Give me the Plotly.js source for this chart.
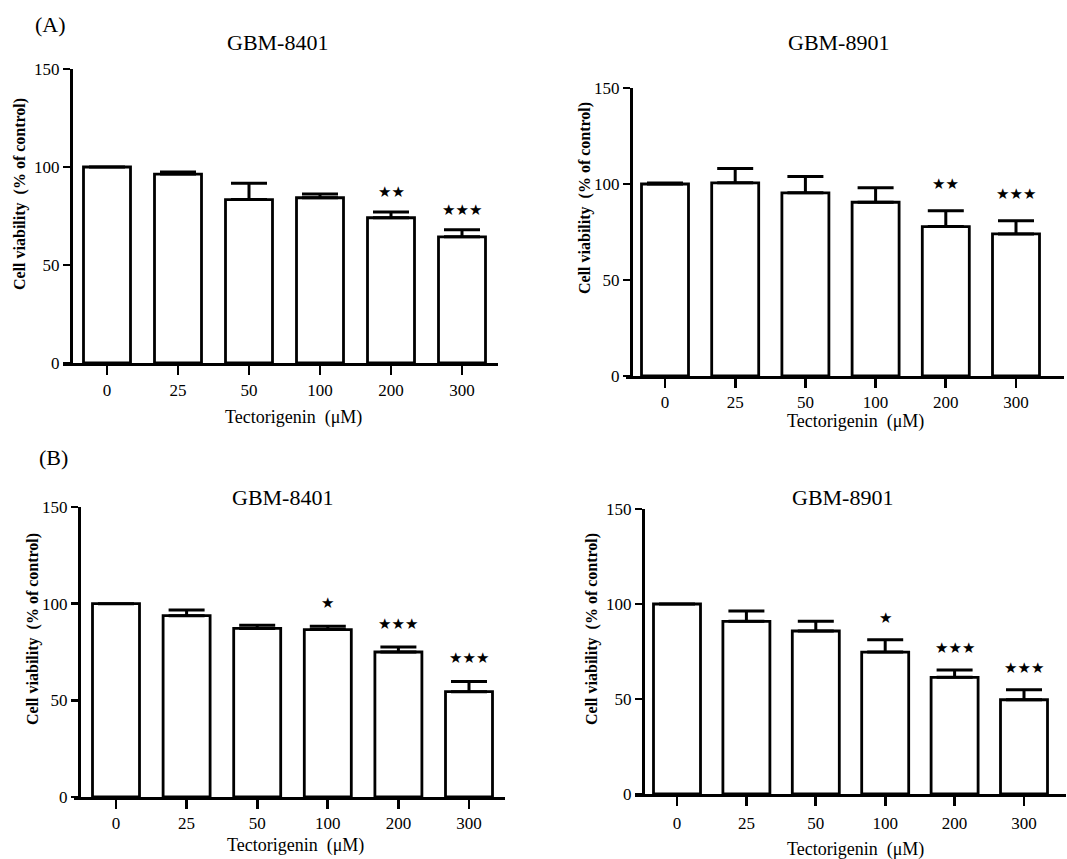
<!DOCTYPE html>
<html>
<head>
<meta charset="utf-8">
<script src="https://cdn.plot.ly/plotly-3.0.1.min.js"></script>
<style>html,body{margin:0;padding:0;background:#fff;}#chart{width:1067px;height:859px;}</style>
</head>
<body>
<div id="chart"></div>
<script>
// ---- data ----
const doses = ['0', '25', '50', '100', '200', '300'];

const a8401Values = [100, 96.4, 83.4, 84.3, 74.1, 64.4];
const a8401Errors = [0, 1.0, 8.3, 1.9, 2.9, 3.6];
const a8401Sig = ['', '', '', '', '**', '***'];

const a8901Values = [100, 100.6, 95.4, 90.5, 77.8, 74.0];
const a8901Errors = [0.5, 7.5, 8.5, 7.6, 8.3, 6.8];
const a8901Sig = ['', '', '', '', '**', '***'];

const b8401Values = [100, 93.8, 87.2, 86.6, 75.0, 54.5];
const b8401Errors = [0, 2.9, 1.7, 1.7, 2.6, 5.3];
const b8401Sig = ['', '', '', '*', '***', '***'];

const b8901Values = [100, 90.9, 85.8, 74.7, 61.4, 49.6];
const b8901Errors = [0, 5.4, 5.1, 6.5, 3.9, 5.3];
const b8901Sig = ['', '', '', '*', '***', '***'];

const yTicks = [0, 50, 100, 150];
const cellLines = ['GBM-8401', 'GBM-8901', 'GBM-8401', 'GBM-8901'];
const panelLetters = ['(A)', '(B)'];
const xTitle = 'Tectorigenin  (\u03bcM)';
const yTitle = 'Cell viability  (% of control)';

// ---- layout geometry (pixels) ----
const W = 1067, H = 859;
const panels = [
  {vals: a8401Values, errs: a8401Errors, sig: a8401Sig, title: cellLines[0],
   xl: 63, xr: 498, yax: 71, y0: 363, y150: 69, t0: 107, sp: 71, gap: 10, stand: 1,
   titlePos: [277, 43], xtPos: [293, 417], ytPos: [20, 194]},
  {vals: a8901Values, errs: a8901Errors, sig: a8901Sig, title: cellLines[1],
   xl: 626, xr: 1064, yax: 631, y0: 376, y150: 88, t0: 665, sp: 70.2, gap: 14, stand: 0,
   titlePos: [838, 43], xtPos: [855, 421], ytPos: [585, 198]},
  {vals: b8401Values, errs: b8401Errors, sig: b8401Sig, title: cellLines[2],
   xl: 74, xr: 505, yax: 79, y0: 797, y150: 507, t0: 116, sp: 70.6, gap: 12, stand: 0,
   titlePos: [282, 497], xtPos: [295, 845], ytPos: [33, 629]},
  {vals: b8901Values, errs: b8901Errors, sig: b8901Sig, title: cellLines[3],
   xl: 635, xr: 1066, yax: 643, y0: 794, y150: 509, t0: 677, sp: 69.4, gap: 11.5, stand: 3,
   titlePos: [842, 497], xtPos: [855, 849], ytPos: [592, 629]}
];

const serif = '"Liberation Serif", "Times New Roman", serif';
const px = x => x / W;
const py = y => 1 - y / H;

const data = [];
const layout = {
  width: W, height: H,
  margin: {l: 0, r: 0, t: 0, b: 0},
  paper_bgcolor: '#fff', plot_bgcolor: 'rgba(0,0,0,0)',
  showlegend: false,
  font: {family: serif, color: '#000', size: 16},
  annotations: []
};

const xIdx = doses.map((d, i) => i);

panels.forEach((p, k) => {
  const n = k + 1;
  const xa = n === 1 ? 'x' : 'x' + n;
  const ya = n === 1 ? 'y' : 'y' + n;
  data.push({
    type: 'bar', x: xIdx, y: p.vals, xaxis: xa, yaxis: ya,
    width: 47 / p.sp,
    marker: {color: '#fff', line: {color: '#000', width: 2.8}},
    error_y: {type: 'data', array: p.errs, arrayminus: p.errs.map(() => 0), symmetric: false,
              color: '#000', thickness: 3, width: 18},
    hoverinfo: 'skip'
  });
  const xr0 = -(p.t0 - p.xl) / p.sp;
  const xr1 = (doses.length - 1) + (p.xr - (p.t0 + (doses.length - 1) * p.sp)) / p.sp;
  layout['xaxis' + (n === 1 ? '' : n)] = {
    domain: [px(p.xl), px(p.xr)], anchor: ya, range: [xr0, xr1],
    tickvals: xIdx, ticktext: doses, ticks: 'outside', ticklen: 9, tickwidth: 2.8,
    tickcolor: '#000', showline: true, linecolor: '#000', linewidth: 2.8,
    showgrid: false, zeroline: false, ticklabelstandoff: p.stand,
    tickfont: {family: serif, size: 17, color: '#000'}, fixedrange: true
  };
  layout['yaxis' + (n === 1 ? '' : n)] = {
    domain: [py(p.y0), py(p.y150)], anchor: 'free', position: px(p.yax), range: [0, 150],
    tickvals: yTicks, ticks: 'outside', ticklen: 7, tickwidth: 2.8, tickcolor: '#000',
    showline: true, linecolor: '#000', linewidth: 2.8, showgrid: false, zeroline: false,
    tickfont: {family: serif, size: 17, color: '#000'}, fixedrange: true
  };
  // panel title
  layout.annotations.push({xref: 'paper', yref: 'paper', x: px(p.titlePos[0]), y: py(p.titlePos[1]),
    text: p.title, showarrow: false, xanchor: 'center', yanchor: 'middle',
    font: {family: serif, size: 22, color: '#000'}});
  // x title
  layout.annotations.push({xref: 'paper', yref: 'paper', x: px(p.xtPos[0]), y: py(p.xtPos[1]),
    text: xTitle, showarrow: false, xanchor: 'center', yanchor: 'middle',
    font: {family: serif, size: 18, color: '#000'}});
  // y title
  layout.annotations.push({xref: 'paper', yref: 'paper', x: px(p.ytPos[0]), y: py(p.ytPos[1]),
    text: '<b>' + yTitle + '</b>', showarrow: false, xanchor: 'center', yanchor: 'middle', textangle: -90,
    font: {family: serif, size: 16, color: '#000'}});
  // significance stars
  p.sig.forEach((s, i) => {
    if (!s) return;
    layout.annotations.push({xref: xa, yref: ya, x: i, y: p.vals[i] + p.errs[i] + p.gap,
      text: s.replace(/\*/g, '\u2605'), showarrow: false, xanchor: 'center', yanchor: 'middle',
      font: {family: '"DejaVu Sans", sans-serif', size: 15, color: '#000'}});
  });
});

// panel letters
layout.annotations.push({xref: 'paper', yref: 'paper', x: px(50), y: py(25), text: panelLetters[0],
  showarrow: false, xanchor: 'center', yanchor: 'middle', font: {family: serif, size: 22, color: '#000'}});
layout.annotations.push({xref: 'paper', yref: 'paper', x: px(53), y: py(457), text: panelLetters[1],
  showarrow: false, xanchor: 'center', yanchor: 'middle', font: {family: serif, size: 22, color: '#000'}});

Plotly.newPlot('chart', data, layout, {displayModeBar: false, staticPlot: true});
</script>
</body>
</html>
